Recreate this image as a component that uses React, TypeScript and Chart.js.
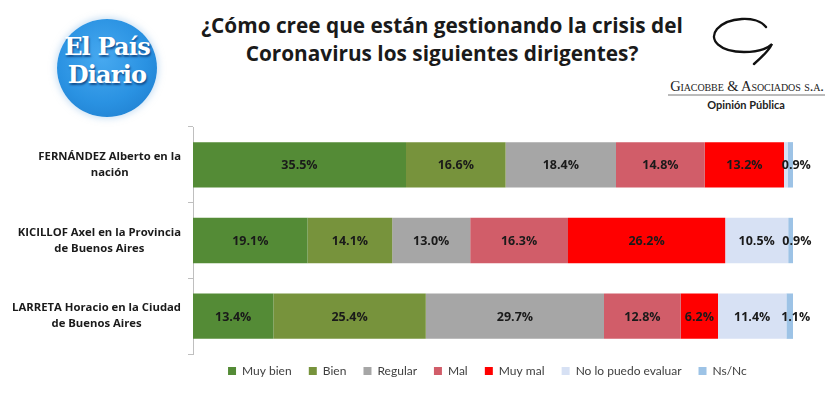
import React, { useEffect, useRef } from "react";
import { Chart, registerables } from "chart.js";

Chart.register(...registerables);

// ---- Data ----
const categoryLines: string[][] = [
  ["FERNÁNDEZ Alberto en la", "nación"],
  ["KICILLOF Axel en la Provincia", "de Buenos Aires"],
  ["LARRETA Horacio en la Ciudad", "de Buenos Aires"],
];
const seriesNames = ["Muy bien", "Bien", "Regular", "Mal", "Muy mal", "No lo puedo evaluar", "Ns/Nc"];
const muyBien = [35.5, 19.1, 13.4];
const bien = [16.6, 14.1, 25.4];
const regular = [18.4, 13.0, 29.7];
const mal = [14.8, 16.3, 12.8];
const muyMal = [13.2, 26.2, 6.2];
const noEvalua = [0.6, 10.5, 11.4];
const nsnc = [0.9, 0.9, 1.1];
const seriesColors = ["#548B36", "#77933C", "#A6A6A6", "#D15D69", "#FF0000", "#D7E1F4", "#9DC3E6"];

const FONT = "Lato, 'Open Sans', sans-serif";
const BOLD_FONT = "'Open Sans', Lato, sans-serif";

const valueLabelPlugin = {
  id: "valueLabels",
  afterDatasetsDraw(chart: any) {
    const ctx = chart.ctx;
    ctx.save();
    ctx.font = `bold 12.5px ${BOLD_FONT}`;
    ctx.fillStyle = "#1a1a1a";
    ctx.textAlign = "center";
    ctx.textBaseline = "middle";
    chart.data.datasets.forEach((ds: any, di: number) => {
      const meta = chart.getDatasetMeta(di);
      meta.data.forEach((bar: any, i: number) => {
        const v = ds.data[i];
        if (di === 5 && v < 1) return;
        const p = bar.getProps(["x", "base", "y"], true);
        let cx = (p.x + p.base) / 2;
        if (di === 6) cx += 6;
        ctx.fillText(v.toFixed(1) + "%", cx, p.y + 1);
      });
    });
    ctx.restore();
  },
};

const yLabelPlugin = {
  id: "yLabels",
  afterDraw(chart: any) {
    const ctx = chart.ctx;
    const yScale = chart.scales.y;
    ctx.save();
    ctx.font = `bold 11.3px ${BOLD_FONT}`;
    ctx.fillStyle = "#1a1a1a";
    ctx.textAlign = "center";
    ctx.textBaseline = "middle";
    const right = chart.chartArea.left - 12;
    categoryLines.forEach((lines, i) => {
      const cy = yScale.getPixelForValue(i);
      const w = Math.max(...lines.map((l) => ctx.measureText(l).width));
      const cx = right - w / 2;
      lines.forEach((l, k) => {
        ctx.fillText(l, cx, cy + (k - (lines.length - 1) / 2) * 16);
      });
    });
    ctx.restore();
  },
};

function BarChart() {
  const ref = useRef<HTMLCanvasElement>(null);
  useEffect(() => {
    const seriesData = [muyBien, bien, regular, mal, muyMal, noEvalua, nsnc];
    const chart = new Chart(ref.current as HTMLCanvasElement, {
      type: "bar",
      data: {
        labels: categoryLines.map((l) => l.join(" ")),
        datasets: seriesNames.map((name, i) => ({
          label: name,
          data: seriesData[i],
          backgroundColor: seriesColors[i],
          borderWidth: 0,
          barPercentage: 0.6,
          categoryPercentage: 1,
        })),
      },
      options: {
        indexAxis: "y",
        responsive: false,
        animation: false,
        devicePixelRatio: 1,
        layout: { padding: { left: 188, right: 39, top: 127, bottom: 10 } },
        scales: {
          x: { stacked: true, min: 0, max: 100, display: false },
          y: {
            stacked: true,
            grid: {
              display: true,
              drawOnChartArea: false,
              drawTicks: true,
              tickLength: 5,
              offset: true,
              color: "#bfbfbf",
            },
            border: { display: true, color: "#bfbfbf" },
            ticks: { display: false },
            afterFit: (s: any) => {
              s.width = 5;
            },
          },
        },
        plugins: {
          legend: {
            position: "bottom",
            labels: {
              boxWidth: 8,
              boxHeight: 8,
              padding: 11,
              color: "#404040",
              font: { family: FONT, size: 12 },
              generateLabels: (c: any) =>
                (Chart.defaults.plugins.legend.labels as any)
                  .generateLabels(c)
                  .map((l: any) => ({ ...l, text: l.text + "\u00A0\u00A0" })),
            },
          },
          tooltip: { enabled: false },
        },
      } as any,
      plugins: [valueLabelPlugin, yLabelPlugin],
    });
    return () => chart.destroy();
  }, []);
  return <canvas ref={ref} width={832} height={397} style={{ position: "absolute", left: 0, top: 0 }} />;
}

export default function App() {
  return (
    <div
      style={{
        position: "absolute",
        left: 0,
        top: 0,
        width: 832,
        height: 397,
        background: "#ffffff",
        overflow: "hidden",
      }}
    >
      {/* El País Diario logo */}
      <div
        style={{
          position: "absolute",
          left: 57,
          top: 19,
          width: 100,
          height: 98,
          borderRadius: "50%",
          background: "radial-gradient(circle at 45% 40%, #47a9f0 0%, #2a92e2 55%, #1b78c9 100%)",
          boxShadow: "0 0 6px 2px rgba(160,200,235,0.5)",
        }}
      />
      <div
        style={{
          position: "absolute",
          left: 57,
          top: 33,
          width: 100,
          textAlign: "center",
          color: "#ffffff",
          fontFamily: "'DejaVu Serif', serif",
          fontWeight: "bold",
          fontSize: 24,
          lineHeight: "28px",
          letterSpacing: -0.8,
          textShadow: "1px 2px 2px rgba(10,60,120,0.8)",
        }}
      >
        El País
        <br />
        Diario
      </div>

      {/* Title */}
      <div
        style={{
          position: "absolute",
          left: 0,
          top: 11,
          width: 884,
          textAlign: "center",
          fontFamily: "'Open Sans', sans-serif",
          fontWeight: "bold",
          fontSize: 20.8,
          lineHeight: "28px",
          color: "#1a1a1a",
          whiteSpace: "nowrap",
        }}
      >
        ¿Cómo cree que están gestionando la crisis del
        <br />
        Coronavirus los siguientes dirigentes?
      </div>

      {/* Giacobbe logo */}
      <svg
        width={832}
        height={397}
        style={{ position: "absolute", left: 0, top: 0, pointerEvents: "none" }}
      >
        <path
          d="M 766 27 C 756 15, 728 17, 717 29 C 708 40, 720 52, 744 52 C 756 52, 766 50, 772 44 C 768 52, 761 58, 754 64"
          fill="none"
          stroke="#111"
          strokeWidth={2.4}
          strokeLinecap="round"
        />
        <line x1={668} y1={95} x2={825} y2={95} stroke="#777" strokeWidth={1} />
      </svg>
      <div
        style={{
          position: "absolute",
          left: 660,
          top: 78,
          width: 174,
          textAlign: "center",
          fontFamily: "'Liberation Serif', 'DejaVu Serif', serif",
          fontVariant: "small-caps",
          fontSize: 14.5,
          whiteSpace: "nowrap",
          color: "#222",
          letterSpacing: -0.1,
        }}
      >
        Giacobbe &amp; Asociados s.a.
      </div>
      <div
        style={{
          position: "absolute",
          left: 668,
          top: 98,
          width: 156,
          textAlign: "center",
          fontFamily: FONT,
          fontWeight: "bold",
          fontSize: 11,
          color: "#222",
        }}
      >
        Opinión Pública
      </div>

      <BarChart />
    </div>
  );
}
